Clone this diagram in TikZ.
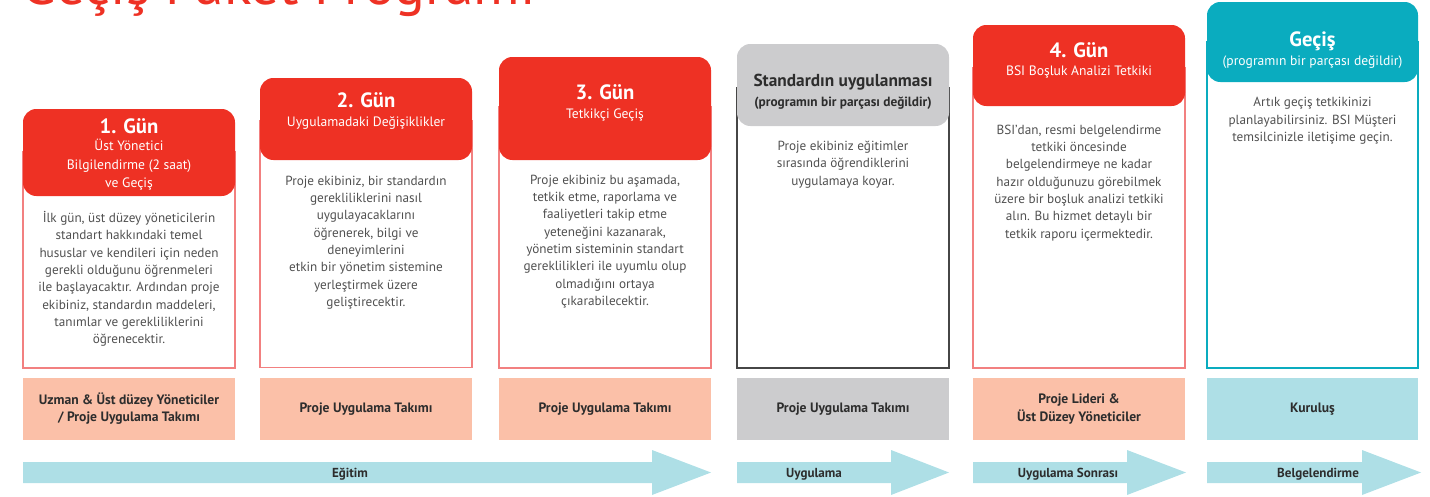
\documentclass[tikz,border=0pt]{standalone}
\usepackage{fontspec}
\setmainfont{PT Sans}
\definecolor{bsired}{RGB}{238,49,36}
\definecolor{framered}{RGB}{242,128,128}
\definecolor{peach}{RGB}{251,192,168}
\definecolor{greyhdr}{RGB}{204,204,206}
\definecolor{framegrey}{RGB}{70,70,70}
\definecolor{teal}{RGB}{10,172,191}
\definecolor{lteal}{RGB}{174,223,230}
\definecolor{bodytxt}{RGB}{80,80,80}
\definecolor{labtxt}{RGB}{45,45,45}
\begin{document}
\begin{tikzpicture}[x=0.75pt,y=-0.75pt,
  hdr/.style={rectangle,rounded corners=10pt,inner sep=0pt,minimum width=159pt},
  frm/.style={rectangle,draw,line width=1.3pt,inner sep=0pt,minimum width=159pt},
  role/.style={rectangle,inner sep=0pt,minimum width=159pt,minimum height=46.5pt,
    align=center,text=labtxt,font=\fontsize{10.2}{12.8}\selectfont\bfseries},
  daytitle/.style={text=white,font=\fontsize{15.5}{17}\selectfont\bfseries,inner sep=0pt},
  daysub/.style={text=white,align=center,font=\fontsize{10.2}{13.8}\selectfont,inner sep=0pt},
  bodytext/.style={text=bodytxt,align=center,font=\fontsize{9.9}{13}\selectfont,inner sep=0pt},
  arrlab/.style={text=labtxt,font=\fontsize{9.8}{11}\selectfont\bfseries,inner sep=0pt}]
\useasboundingbox (0,0) rectangle (1430,496);

% title (cut off at top)
\node[anchor=base west,text=bsired,inner sep=0pt,font=\fontsize{43}{46}\selectfont] (title) at (21,4) {Geçiş Paket Programı};

% ---------- column 1
\node[frm,draw=framered,minimum height=162pt] (f1) at (129,260) {};
\node[hdr,fill=bsired,minimum height=65.25pt] (h1) at (129,152.5) {};
\node[daytitle] (h1t) at (129,126) {1. Gün};
\node[daysub] (h1s) at (129,165) {Üst Yönetici\\Bilgilendirme (2 saat)\\ve Geçiş};
\node[bodytext] (t1) at (129,279) {İlk gün, üst düzey yöneticilerin\\standart hakkındaki temel\\hususlar ve kendileri için neden\\gerekli olduğunu öğrenmeleri\\ile başlayacaktır. Ardından proje\\ekibiniz, standardın maddeleri,\\tanımlar ve gerekliliklerini\\öğrenecektir.};
\node[role,fill=peach] (r1) at (129,409) {Uzman \& Üst düzey Yöneticiler\\/ Proje Uygulama Takımı};

% ---------- column 2
\node[frm,draw=framered,minimum height=185.25pt] (f2) at (366,244) {};
\node[hdr,fill=bsired,minimum height=61.5pt] (h2) at (366,119) {};
\node[daytitle] (h2t) at (366,100) {2. Gün};
\node[daysub] (h2s) at (366,123) {Uygulamadaki Değişiklikler};
\node[bodytext] (t2) at (366,242.5) {Proje ekibiniz, bir standardın\\gerekliliklerini nasıl\\uygulayacaklarını\\öğrenerek, bilgi ve\\deneyimlerini\\etkin bir yönetim sistemine\\yerleştirmek üzere\\geliştirecektir.};
\node[role,fill=peach] (r2) at (366,409) {Proje Uygulama Takımı};

% ---------- column 3
\node[frm,draw=framered,minimum height=195.75pt] (f3) at (605,237.5) {};
\node[hdr,fill=bsired,minimum height=77.25pt] (h3) at (605,108.5) {};
\node[daytitle] (h3t) at (605,92) {3. Gün};
\node[daysub] (h3s) at (605,115) {Tetkikçi Geçiş};
\node[bodytext] (t3) at (605,241.5) {Proje ekibiniz bu aşamada,\\tetkik etme, raporlama ve\\faaliyetleri takip etme\\yeteneğini kazanarak,\\yönetim sisteminin standart\\gereklilikleri ile uyumlu olup\\olmadığını ortaya\\çıkarabilecektir.};
\node[role,fill=peach] (r3) at (605,409) {Proje Uygulama Takımı};

% ---------- column 4
\node[frm,draw=framegrey,minimum height=210pt] (f4) at (843,228) {};
\node[hdr,fill=greyhdr,minimum height=61.5pt] (h4) at (843,85) {};
\node[text=labtxt,inner sep=0pt,font=\fontsize{13}{15}\selectfont\bfseries] (h4t) at (843,82) {Standardın uygulanması};
\node[text=labtxt,inner sep=0pt,font=\fontsize{10}{12}\selectfont\bfseries] (h4s) at (843,103) {(programın bir parçası değildir)};
\node[bodytext] (t4) at (843,164.5) {Proje ekibiniz eğitimler\\sırasında öğrendiklerini\\uygulamaya koyar.};
\node[role,fill=greyhdr] (r4) at (843,409) {Proje Uygulama Takımı};

% ---------- column 5
\node[frm,draw=framered,minimum height=225pt] (f5) at (1079,218) {};
\node[hdr,fill=bsired,minimum height=60.75pt] (h5) at (1079,65.5) {};
\node[daytitle] (h5t) at (1079,50) {4. Gün};
\node[daysub] (h5s) at (1079,72) {BSI Boşluk Analizi Tetkiki};
\node[bodytext] (t5) at (1079,183) {BSI'dan, resmi belgelendirme\\tetkiki öncesinde\\belgelendirmeye ne kadar\\hazır olduğunuzu görebilmek\\üzere bir boşluk analizi tetkiki\\alın. Bu hizmet detaylı bir\\tetkik raporu içermektedir.};
\node[role,fill=peach] (r5) at (1079,409) {Proje Lideri \&\\Üst Düzey Yöneticiler};

% ---------- column 6
\node[frm,draw=teal,minimum width=158.25pt,minimum height=244.5pt] (f6) at (1312.5,205) {};
\node[hdr,fill=teal,minimum width=158.25pt,minimum height=60pt] (h6) at (1312.5,42) {};
\node[daytitle] (h6t) at (1312.5,41) {Geçiş};
\node[daysub] (h6s) at (1312.5,62) {(programın bir parçası değildir)};
\node[bodytext] (t6) at (1312.5,121) {Artık geçiş tetkikinizi\\planlayabilirsiniz. BSI Müşteri\\temsilcinizle iletişime geçin.};
\node[role,fill=lteal,minimum width=158.25pt] (r6) at (1312.5,409) {Kuruluş};

% ---------- arrows
\fill[lteal] (23,462) -- (652,462) -- (652,450) -- (711,472.5) -- (652,495) -- (652,483) -- (23,483) -- cycle;
\fill[lteal] (737,462) -- (891,462) -- (891,450) -- (949,472.5) -- (891,495) -- (891,483) -- (737,483) -- cycle;
\fill[lteal] (973,462) -- (1127,462) -- (1127,450) -- (1186,472.5) -- (1127,495) -- (1127,483) -- (973,483) -- cycle;
\fill[lteal] (1207,462) -- (1362,462) -- (1362,450) -- (1421,472.5) -- (1362,495) -- (1362,483) -- (1207,483) -- cycle;
\node[arrlab] (a1) at (350,474) {Eğitim};
\node[arrlab] (a2) at (814,474) {Uygulama};
\node[arrlab] (a3) at (1068,474) {Uygulama Sonrası};
\node[arrlab] (a4) at (1318,474) {Belgelendirme};
\end{tikzpicture}
\end{document}
